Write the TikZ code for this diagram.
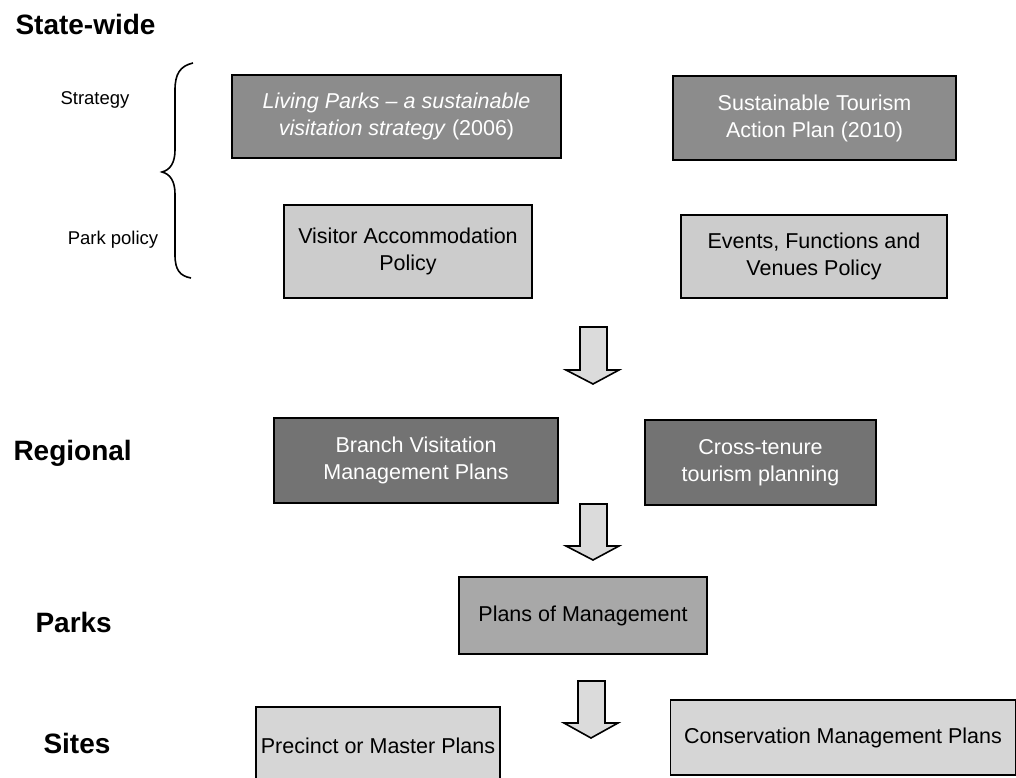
\documentclass[tikz,border=0pt]{standalone}
\usepackage{fontspec}
\setmainfont{Liberation Sans}
\definecolor{midgray}{gray}{0.55}
\definecolor{darkgray}{gray}{0.45}
\definecolor{lightgray}{gray}{0.80}
\definecolor{lightergray}{gray}{0.84}
\definecolor{pomgray}{gray}{0.66}
\definecolor{arrowgray}{gray}{0.86}
\begin{document}
\begin{tikzpicture}[x=1pt,y=-1pt,
  box/.style={draw=black, line width=1.8pt, inner sep=0pt, align=center,
    font=\fontsize{21.5}{27}\selectfont},
  strongbox/.style={box, fill=midgray, text=white},
  regionbox/.style={box, fill=darkgray, text=white},
  policybox/.style={box, fill=lightgray, text=black},
  parkbox/.style={box, fill=pomgray, text=black},
  sitebox/.style={box, fill=lightergray, text=black},
  level/.style={anchor=west, font=\bfseries\fontsize{28}{32}\selectfont},
  sublevel/.style={font=\fontsize{18.5}{22}\selectfont},
  blockarrow/.style={draw=black, line width=1.6pt, fill=arrowgray, line join=miter},
  bracepath/.style={draw=black, line width=1.6pt}
]
\useasboundingbox (0,0) rectangle (1016,778);
\fill[white] (0,0) rectangle (1016,778);

% level labels
\node[level] (statewide) at (12,24) {State-wide};
\node[level] (regional) at (10,453) {Regional};
\node[level] (parks) at (32,622) {Parks};
\node[level] (sites) at (40,743) {Sites};
\node[sublevel] (strategy) at (95,100) {Strategy};
\node[sublevel] (parkpolicy) at (113,240) {Park policy};

% brace
\draw[bracepath] (193,63) .. controls (180,66) and (175,74) .. (175,90)
  -- (175,150) .. controls (175,163) and (170,170) .. (162,172)
  .. controls (170,174) and (175,181) .. (175,194)
  -- (175,255) .. controls (175,270) and (180,276) .. (191,278);

% state-wide boxes
\node[strongbox, minimum width=329pt, minimum height=83pt] (living) at (396.5,116.5)
  {\textit{Living Parks \textendash\ a sustainable}\\\textit{visitation strategy} (2006)};
\node[strongbox, minimum width=283pt, minimum height=84pt] (stap) at (814.5,118)
  {Sustainable Tourism\\Action Plan (2010)};
\node[policybox, minimum width=248pt, minimum height=93pt] (vap) at (408,251.5)
  {Visitor Accommodation\\Policy};
\node[policybox, minimum width=266pt, minimum height=83pt] (efv) at (814,256.5)
  {Events, Functions and\\Venues Policy};

% regional boxes
\node[regionbox, minimum width=284pt, minimum height=85pt] (bvmp) at (416,460.5)
  {Branch Visitation\\Management Plans};
\node[regionbox, minimum width=231pt, minimum height=85pt] (ctp) at (760.5,462.5)
  {Cross-tenure\\tourism planning};

% parks box
\node[parkbox, minimum width=248pt, minimum height=77pt] (pom) at (583,615.5)
  {Plans of Management};

% sites boxes
\node[sitebox, minimum width=244pt, minimum height=78pt] (pmp) at (378,746)
  {Precinct or Master Plans};
\node[sitebox, minimum width=345pt, minimum height=75pt] (cmp) at (843,737.5)
  {Conservation Management Plans};

% block arrows
\draw[blockarrow] (580,327) -- (607,327) -- (607,370) -- (619,370) -- (593,384)
  -- (566,370) -- (580,370) -- cycle;
\draw[blockarrow] (580,504) -- (607,504) -- (607,546) -- (619,546) -- (593,560)
  -- (566,546) -- (580,546) -- cycle;
\draw[blockarrow] (578,681) -- (605,681) -- (605,723) -- (618,723) -- (591,738)
  -- (564,723) -- (578,723) -- cycle;
\end{tikzpicture}
\end{document}
